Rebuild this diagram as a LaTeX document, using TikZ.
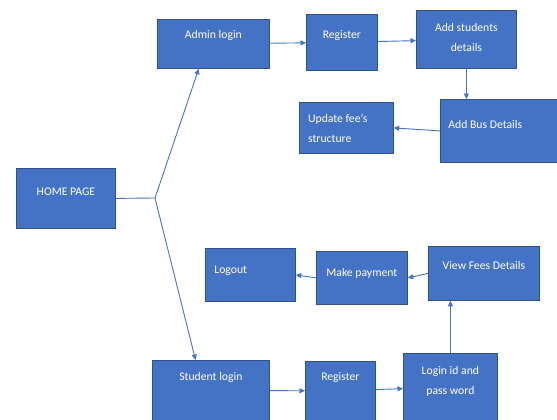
\documentclass[tikz,border=0pt]{standalone}
\usepackage{fontspec}
\setmainfont{Carlito}
\usetikzlibrary{arrows.meta,calc}
\definecolor{blu}{HTML}{4472C4}
\definecolor{bdr}{HTML}{2F528F}
\definecolor{lnk}{HTML}{4472C4}
\begin{document}
\begin{tikzpicture}[x=1pt,y=-1pt,
  box/.style={draw=bdr, line width=0.8pt, fill=blu, text=white, inner sep=0pt,
    anchor=north west, font=\fontsize{11.7}{20}\selectfont},
  conn/.style={draw=lnk, line width=0.9pt, -{Triangle[length=5.5pt,width=5pt]}},
  plain/.style={draw=lnk, line width=0.9pt}]
\useasboundingbox (0,0) rectangle (557,420);
\clip (0,0) rectangle (557,420);
% top branch
\node[box, minimum width=99pt, text height=27.5pt, text depth=32.5pt] (home) at (16,168) {HOME PAGE};
\node[box, minimum width=112pt, text height=19.5pt, text depth=29.5pt] (admin) at (157,19) {Admin login};
\node[box, minimum width=71pt, text height=24.5pt, text depth=31.5pt] (reg1) at (306,14) {Register};
\node[box, minimum width=100pt, text height=21pt, text depth=37pt] (addst) at (416,10)
  {\parbox[t]{100pt}{\centering Add students\\details}};
\node[box, minimum width=130pt, text height=29pt, text depth=34pt] (addbus) at (440,99)
  {\parbox[t]{114pt}{\raggedright Add Bus Details}};
\node[box, minimum width=94pt, text height=20.5pt, text depth=30.5pt] (update) at (299,102)
  {\parbox[t]{76.6pt}{\raggedright Update fee’s\\structure}};
% bottom branch
\node[box, minimum width=90pt, text height=25.5pt, text depth=27.5pt] (logout) at (205,248)
  {\parbox[t]{72pt}{\raggedright Logout}};
\node[box, minimum width=91pt, text height=25pt, text depth=28pt] (make) at (316,251) {Make payment};
\node[box, minimum width=111pt, text height=23.5pt, text depth=30.5pt] (view) at (428,246) {View Fees Details};
\node[box, minimum width=117pt, text height=20pt, text depth=40pt] (stud) at (152,360) {Student login};
\node[box, minimum width=70pt, text height=19pt, text depth=40pt] (reg2) at (305,361) {Register};
\node[box, minimum width=94pt, text height=21.5pt, text depth=45.5pt] (login) at (403,353)
  {\parbox[t]{94pt}{\centering Login id and\\pass word}};
% connectors
\coordinate (br) at (155,198);
\draw[plain] (home.east) -- (br);
\draw[conn] (br) -- ($(admin.south west)!0.37!(admin.south east)$);
\draw[conn] (br) -- ($(stud.north west)!0.37!(stud.north east)$);
\draw[conn] (admin) -- (reg1);
\draw[conn] (reg1) -- (addst);
\draw[conn] (addst.south) -- (addst.south |- addbus.north);
\draw[conn] (addbus.west) -- (update.east);
\draw[conn] (stud) -- (reg2);
\draw[conn] (reg2) -- (login);
\draw[conn] (login.north) -- (login.north |- view.south);
\draw[conn] (view.west) -- (make.east);
\draw[conn] (make.west) -- (logout.east);
\end{tikzpicture}
\end{document}
